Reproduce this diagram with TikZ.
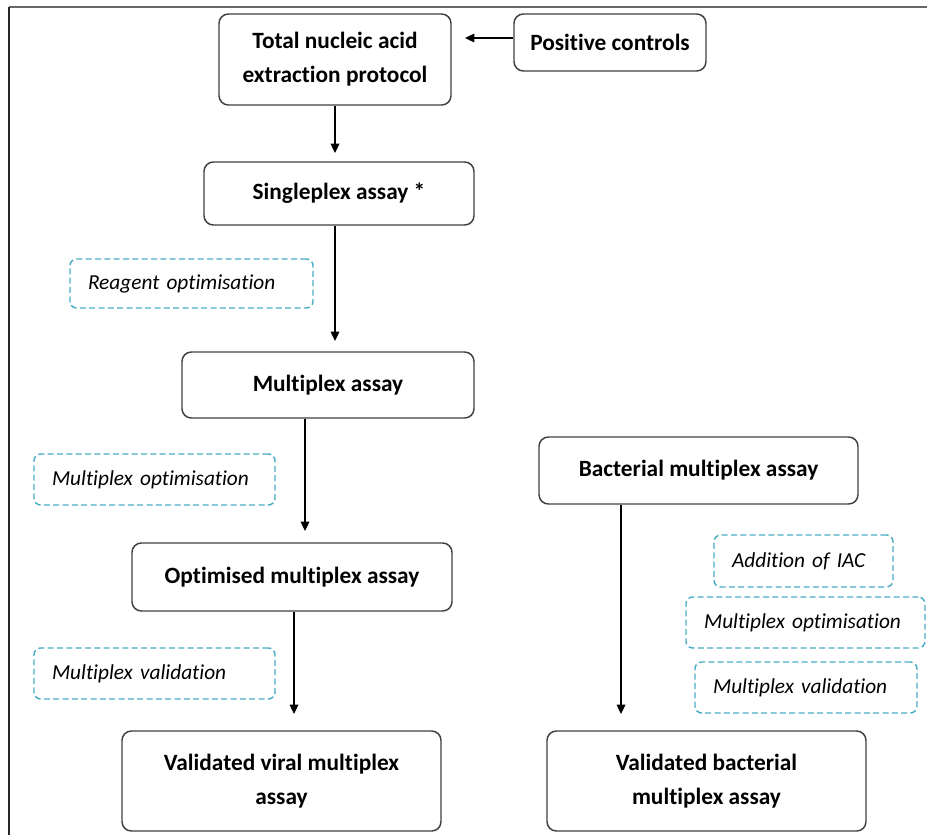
\documentclass[tikz,border=0pt]{standalone}
\usepackage{fontspec}
\setmainfont{Carlito}[Ligatures=NoCommon]
\usetikzlibrary{arrows.meta}
\definecolor{notecol}{HTML}{4BACC6}
\tikzset{
  stepbox/.style={draw=black!75, line width=1.1pt, rounded corners=7pt, align=center,
    font=\fontsize{17.5}{25.5}\selectfont\bfseries},
  notebox/.style={draw=notecol, line width=1.1pt, dashed, dash pattern=on 4.5pt off 2.5pt,
    rounded corners=5pt, inner xsep=13.5pt, align=left,
    font=\fontsize{16}{19}\selectfont\itshape},
  arr/.style={-{Triangle[length=7pt,width=6.5pt]}, line width=0.9pt}
}
\begin{document}
\begin{tikzpicture}[x=0.75pt,y=-0.75pt]
\useasboundingbox (0,0) rectangle (927,835);
% frame
\draw[black!60, line width=1.5pt] (9,7) -- (927,7);
\draw[black!85, line width=1.3pt] (9,7) -- (9,835);

% viral branch
\node[stepbox, minimum width=174pt, minimum height=68.25pt] (total) at (335,59.5) {Total nucleic acid\\extraction protocol};
\node[stepbox, minimum width=144pt, minimum height=42.75pt] (posctrl) at (610,42.5) {Positive controls};
\node[stepbox, minimum width=202.5pt, minimum height=47.25pt] (single) at (339,193.5) {Singleplex assay *};
\node[stepbox, minimum width=219pt, minimum height=49.5pt] (multi) at (328,385) {Multiplex assay};
\node[stepbox, minimum width=240pt, minimum height=51pt] (optim) at (292,577) {Optimised multiplex assay};
\node[stepbox, minimum width=239.25pt, minimum height=75pt] (viral) at (281.5,781) {Validated viral multiplex\\assay};

% bacterial branch
\node[stepbox, minimum width=239.25pt, minimum height=50.25pt] (bact) at (698.5,470.5) {Bacterial multiplex assay};
\node[stepbox, minimum width=239.25pt, minimum height=75pt] (valbact) at (706.5,781) {Validated bacterial\\multiplex assay};

% notes
\node[notebox, minimum height=36.75pt, text width=155.25pt] (reagent) at (191.5,283.5) {Reagent optimisation};
\node[notebox, minimum height=38.25pt, text width=153.75pt] (multopt) at (154.5,479.5) {Multiplex optimisation};
\node[notebox, minimum height=38.25pt, text width=153.75pt] (multval) at (154.5,673.5) {Multiplex validation};
\node[notebox, minimum height=39pt, text width=107.25pt] (iac) at (803.5,561) {Addition of IAC};
\node[notebox, minimum height=38.25pt, text width=152.25pt] (bmultopt) at (805.5,622.5) {Multiplex optimisation};
\node[notebox, minimum height=38.25pt, text width=139.5pt] (bmultval) at (806,687.5) {Multiplex validation};

% arrow ends
\coordinate (pcend) at (465,38);
\coordinate (a1) at (335,153);
\coordinate (a2) at (335,341);
\coordinate (a3) at (305,531);
\coordinate (a4) at (294,714);
\coordinate (a5) at (621,714);

\draw[arr] (posctrl.west |- pcend) -- (pcend);
\draw[arr] (total.south -| a1) -- (a1);
\draw[arr] (single.south -| a2) -- (a2);
\draw[arr] (multi.south -| a3) -- (a3);
\draw[arr] (optim.south -| a4) -- (a4);
\draw[arr] (bact.south -| a5) -- (a5);
\end{tikzpicture}
\end{document}
